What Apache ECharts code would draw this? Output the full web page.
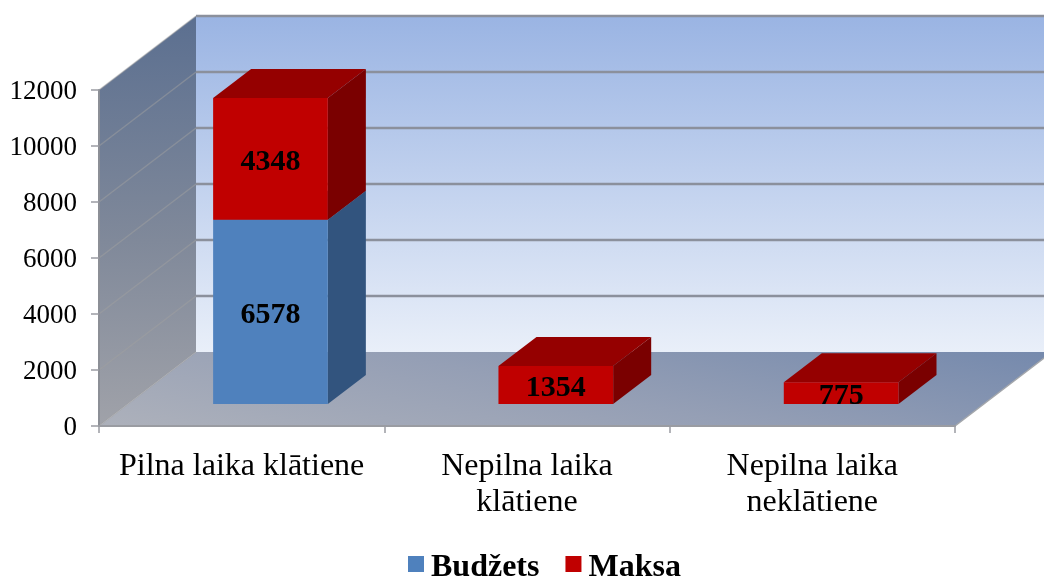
<!DOCTYPE html>
<html><head><meta charset="utf-8">
<style>html,body{margin:0;padding:0;background:#fff}#c{width:1044px;height:576px}</style>
<script src="https://cdn.jsdelivr.net/npm/echarts@6/dist/echarts.min.js"></script>
</head><body><div id="c"></div>
<script>
const categories = ['Pilna laika klātiene', 'Nepilna laika\nklātiene', 'Nepilna laika\nneklātiene'];
const budzets = [6578, null, null];
const maksa = [4348, 1354, 775];
const yTicks = [0, 2000, 4000, 6000, 8000, 10000, 12000];

const SERIF = '"Liberation Serif","Times New Roman",serif';
const DX = 97, DY = -74;          // full depth of the 3D box
const FRONT = 0.297, BAR_D = 0.392; // bar start and depth as a share of it
const BAR_W = 0.402;              // bar width as a share of the category band
const G = echarts.graphic.LinearGradient;

const chart = echarts.init(document.getElementById('c'), null, {renderer: 'canvas'});

function poly(points, fill, z2) {
  return {type: 'polygon', z2: z2 || 0, shape: {points}, style: {fill, stroke: null}};
}
function line(a, b, stroke, lineWidth) {
  return {type: 'line', shape: {x1: a[0], y1: a[1], x2: b[0], y2: b[1]}, style: {stroke, lineWidth}};
}

function renderWalls(params, api) {
  const band = api.size([1, 0])[0];
  const x0 = api.coord([0, 0])[0] - band / 2;
  const x1 = x0 + band * categories.length;
  const yB = api.coord([0, 0])[1];
  const yT = api.coord([0, yTicks[yTicks.length - 1]])[1];
  return {type: 'group', children: [
    poly([[x0 + DX, yT + DY], [x1 + DX, yT + DY], [x1 + DX, yB + DY], [x0 + DX, yB + DY]],
      new G(0, 0, 0, 1, [{offset: 0, color: '#9ab4e3'}, {offset: 1, color: '#e9eff9'}])),
    poly([[x0, yT], [x0 + DX, yT + DY], [x0 + DX, yB + DY], [x0, yB]],
      new G(0, 0, 0, 1, [{offset: 0, color: '#5b6f90'}, {offset: 0.55, color: '#80899a'}, {offset: 1, color: '#a0a2a9'}])),
    poly([[x0, yB], [x1, yB], [x1 + DX, yB + DY], [x0 + DX, yB + DY]],
      new G(x0, yB, x0 + 50, yB - 250, [{offset: 0, color: '#adb1bb'}, {offset: 0.5, color: '#959fb5'}, {offset: 1, color: '#768aad'}], true)),
    line([x1, yB], [x1 + DX, yB + DY], '#a3a6ab', 1.5)
  ]};
}

function renderGrid(params, api) {
  const band = api.size([1, 0])[0];
  const x0 = api.coord([0, 0])[0] - band / 2;
  const x1 = x0 + band * categories.length;
  const y = api.coord([0, api.value(0)])[1];
  return {type: 'group', children: [
    line([x0, y], [x0 + DX, y + DY], 'rgba(160,160,160,0.5)', 1.5),
    line([x0 + DX, y + DY], [x1 + DX, y + DY], '#8b909c', api.value(0) === 0 ? 0 : 2.5)
  ]};
}

function bar3d(colors, z) {
  return function (params, api) {
    const value = api.value(2);
    if (value == null || isNaN(value)) return null;
    const band = api.size([1, 0])[0];
    const w = band * BAR_W;
    const p0 = api.coord([api.value(0), api.value(1)]);
    const p1 = api.coord([api.value(0), api.value(1) + value]);
    const ox = DX * FRONT, oy = DY * FRONT, dx = DX * BAR_D, dy = DY * BAR_D;
    const l = p0[0] + ox - w / 2, r = l + w, b = p0[1] + oy, t = p1[1] + oy;
    return {type: 'group', children: [
      poly([[l, t], [l + dx, t + dy], [r + dx, t + dy], [r, t]], colors.top),
      poly([[r, b], [r + dx, b + dy], [r + dx, t + dy], [r, t]], colors.side),
      poly([[l, b], [r, b], [r, t], [l, t]], colors.front),
      {type: 'text', z2: 5, style: {
        text: String(value), x: (l + r) / 2, y: (t + b) / 2 + 3,
        fill: '#000', font: 'bold 30px ' + SERIF, textAlign: 'center', textVerticalAlign: 'middle'
      }}
    ]};
  };
}

const stackedBase = maksa.map((_, i) => budzets[i] || 0);

chart.setOption({
  animation: false,
  backgroundColor: '#fff',
  grid: {left: 99, right: 89, top: 90, bottom: 150, containLabel: false},
  legend: {
    left: 403, top: 547, icon: 'rect', itemWidth: 16, itemHeight: 16, itemGap: 26,
    data: ['Budžets', 'Maksa'],
    formatter: '{a|{name}}',
    textStyle: {rich: {a: {fontFamily: SERIF, fontSize: 32, fontWeight: 'bold', color: '#000', padding: [8, 0, 0, 2]}}},
    itemStyle: {borderWidth: 0}
  },
  xAxis: {
    type: 'category', data: categories, z: 10,
    axisLine: {lineStyle: {color: '#9a9ca2', width: 2}},
    axisTick: {show: true, length: 7, alignWithLabel: false, lineStyle: {color: '#9a9ca2', width: 1.5}},
    axisLabel: {fontFamily: SERIF, fontSize: 32, color: '#000', margin: 23, lineHeight: 36, interval: 0}
  },
  yAxis: {
    type: 'value', min: 0, max: 12000, interval: 2000, z: 10,
    splitLine: {show: false},
    axisLine: {show: true, lineStyle: {color: '#8c8f96', width: 2}},
    axisTick: {show: true, length: 8, lineStyle: {color: '#9a9ca2', width: 1.5}},
    axisLabel: {margin: 22, formatter: v => '{a|' + v + '}',
      rich: {a: {fontFamily: SERIF, fontSize: 27, color: '#000', padding: [4, 0, 0, 0]}}}
  },
  series: [
    {type: 'custom', name: 'walls', silent: true, clip: false, z: 1, data: [[0]], renderItem: renderWalls},
    {type: 'custom', name: 'grid', silent: true, clip: false, z: 2, data: yTicks.map(v => [v]),
      encode: {y: 0}, renderItem: renderGrid},
    {type: 'custom', name: 'Budžets', clip: false, z: 3, itemStyle: {color: '#4f81bd'},
      data: budzets.map((v, i) => [i, 0, v]), encode: {x: 0, y: [1, 2]},
      renderItem: bar3d({front: '#4f81bd', top: '#3a6596', side: '#32547e'})},
    {type: 'custom', name: 'Maksa', clip: false, z: 4, itemStyle: {color: '#c00000'},
      data: maksa.map((v, i) => [i, stackedBase[i], v]), encode: {x: 0, y: [1, 2]},
      renderItem: bar3d({front: '#c00000', top: '#950000', side: '#7a0000'})}
  ]
});
</script></body></html>
